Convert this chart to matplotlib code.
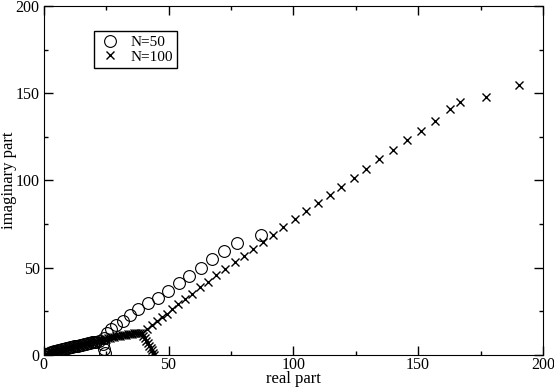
import matplotlib
matplotlib.use("Agg")
import matplotlib.pyplot as plt
from matplotlib.ticker import MultipleLocator

plt.rcParams['font.family'] = ['Liberation Serif', 'DejaVu Serif']

# N=50 eigenvalues
n50_re = [0.3, 1.1, 1.9, 2.7, 3.5, 4.3, 5.1, 5.9, 6.7, 7.5, 8.3, 9.1, 9.9, 10.7,
          11.5, 12.3, 13.1, 13.9, 14.7, 15.5, 16.3, 17.1, 17.9, 18.7, 19.5, 20.3,
          21.1, 22.0,
          23.8, 24.3, 24.6,
          24.0, 25.4, 27.1, 29.1, 31.8, 34.5, 37.8, 41.8, 45.8, 49.9, 54.1, 58.2,
          62.8, 67.5, 72.3, 77.4, 87.0]
n50_im = [0.4, 0.9, 1.3, 1.7, 2.0, 2.3, 2.6, 2.9, 3.1, 3.4, 3.6, 3.9, 4.2, 4.4,
          4.7, 5.0, 5.2, 5.5, 5.8, 6.0, 6.3, 6.6, 6.8, 7.1, 7.3, 7.6,
          7.8, 8.0,
          6.4, 3.6, 1.4,
          10.1, 12.4, 14.7, 17.2, 19.7, 22.9, 26.2, 29.6, 32.8, 36.8, 41.1, 45.3,
          50.0, 54.8, 59.8, 64.2, 68.8]

# N=100 eigenvalues
n100_re = [0.3, 1.0, 1.8, 2.6, 3.4, 4.2, 5.0, 5.8, 6.6, 7.4, 8.2, 9.0, 9.8, 10.6,
           11.4, 12.2, 13.0, 13.8, 14.6, 15.4, 16.2, 17.0, 17.8, 18.6, 19.4, 20.2,
           21.0, 21.8, 22.6, 23.4, 24.2, 25.0, 25.8, 26.6, 27.4, 28.2, 29.0, 29.8,
           30.6, 31.4, 32.2, 33.0, 33.8, 34.6, 35.4, 36.2, 37.0, 37.8, 38.6,
           39.9, 40.5, 41.1, 41.7, 42.3, 42.9, 43.4, 43.9, 44.3,
           39.2, 41.2, 43.2, 45.2, 47.2, 49.2, 51.2, 53.8, 56.5, 59.4, 62.5, 65.9,
           69.2, 72.5, 76.6, 80.3, 83.9, 87.9, 91.9, 95.9, 100.6, 105.0, 109.8,
           114.5, 119.2, 124.2, 129.3, 134.5, 139.9, 145.5, 151.0, 156.8, 162.7,
           166.9, 177.0, 190.5]
n100_im = [0.4, 0.8, 1.2, 1.6, 1.9, 2.2, 2.5, 2.8, 3.0, 3.3, 3.5, 3.8, 4.1, 4.4,
           4.7, 5.0, 5.3, 5.6, 5.9, 6.2, 6.4, 6.7, 7.0, 7.3, 7.5, 7.8,
           8.1, 8.4, 8.7, 8.9, 9.2, 9.5, 9.7, 10.0, 10.3, 10.5, 10.8, 11.0,
           11.2, 11.4, 11.6, 11.8, 12.0, 12.2, 12.3, 12.4, 12.5, 12.5, 12.5,
           11.0, 9.6, 8.2, 6.8, 5.4, 4.0, 2.7, 1.4, 0.3,
           12.6, 14.7, 17.2, 19.5, 21.6, 23.8, 26.7, 29.2, 32.1, 35.3, 38.8, 42.0,
           45.8, 49.3, 53.1, 56.9, 60.5, 64.6, 68.9, 73.1, 77.7, 82.4, 87.1,
           91.9, 96.4, 101.6, 106.8, 112.1, 117.5, 123.0, 128.5, 134.3, 140.8,
           144.8, 148.0, 154.7]

fig = plt.figure(figsize=(5.54, 3.89), dpi=100)
ax = fig.add_axes([0.079, 0.087, 0.901, 0.898])

ax.plot(n50_re, n50_im, linestyle='none', marker='o', markersize=8.5,
        markerfacecolor='none', markeredgecolor='black', markeredgewidth=0.8,
        label='N=50')
ax.plot(n100_re, n100_im, linestyle='none', marker='x', markersize=6,
        color='black', markeredgewidth=1.0, label='N=100')

ax.set_xlim(0, 200)
ax.set_ylim(0, 200)
ax.xaxis.set_major_locator(MultipleLocator(50))
ax.xaxis.set_minor_locator(MultipleLocator(25))
ax.yaxis.set_major_locator(MultipleLocator(50))
ax.yaxis.set_minor_locator(MultipleLocator(25))
ax.tick_params(which='both', direction='in', top=True, right=True,
               labelsize=11.5, width=1)
ax.tick_params(which='major', length=6.5, pad=1)
ax.tick_params(axis='y', which='major', pad=3)
ax.tick_params(which='minor', length=3.2)

ax.set_xlabel('real part', fontsize=12)
ax.set_ylabel('imaginary part', fontsize=12)
ax.xaxis.set_label_coords(0.5, -0.046)
ax.yaxis.set_label_coords(-0.054, 0.5)

leg = ax.legend(loc='upper left', bbox_to_anchor=(0.1, 0.928), borderaxespad=0,
                fancybox=False, edgecolor='black', framealpha=1, fontsize=11,
                handletextpad=0.6, borderpad=0.3, labelspacing=0.05,
                handlelength=1.5)
leg.get_frame().set_linewidth(1.0)

fig.savefig('out.png', dpi=100)
